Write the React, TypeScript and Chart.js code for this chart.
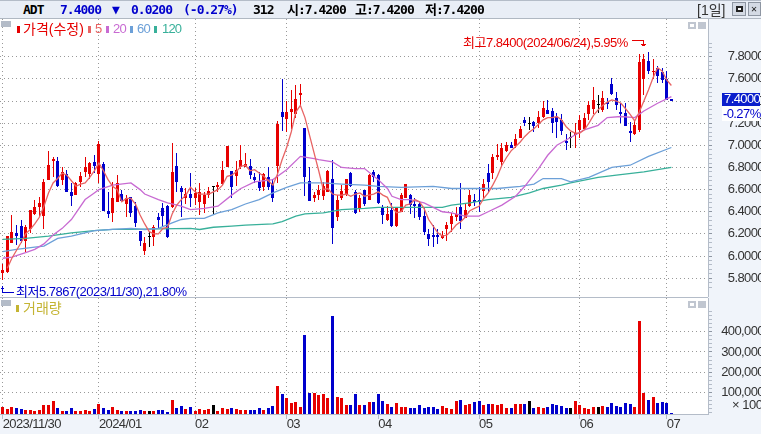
import { useEffect, useRef } from "react"
import { Chart, registerables } from "chart.js"

Chart.register(...registerables)

// daily candles, index 0 = 2023/11/30
const opens = [
  5.85, 5.86, 6.12, 6.21, 6.27, 6.14, 6.24, 6.38, 6.44, 6.36,
  6.69, 6.86, 6.86, 6.69, 6.74, 6.58, 6.55, 6.67, 6.76, 6.74,
  6.85, 6.74, 6.83, 6.41, 6.39, 6.49, 6.56, 6.47, 6.53, 6.45,
  6.23, 6.05, 6.17, 6.17, 6.35, 6.43, 6.45, 6.44, 6.81, 6.61,
  6.52, 6.56, 6.52, 6.49, 6.47, 6.55, 6.62, 6.62, 6.65, 6.80,
  6.77, 6.72, 6.80, 6.80, 6.81, 6.71, 6.67, 6.62, 6.71, 6.66,
  6.81, 7.30, 7.24, 7.30, 7.28, 7.45, 7.16, 6.68, 6.52, 6.55,
  6.54, 6.58, 6.70, 6.35, 6.52, 6.56, 6.75, 6.58, 6.43, 6.60,
  6.51, 6.76, 6.73, 6.43, 6.33, 6.42, 6.27, 6.40, 6.52, 6.55,
  6.47, 6.47, 6.36, 6.20, 6.19, 6.19, 6.16, 6.24, 6.29, 6.35,
  6.44, 6.34, 6.45, 6.51, 6.51, 6.59, 6.75, 6.75, 6.89, 6.85,
  6.95, 7.00, 6.99, 7.07, 7.23, 7.19, 7.21, 7.20, 7.26, 7.32,
  7.31, 7.26, 7.23, 7.04, 7.07, 7.09, 7.14, 7.15, 7.28, 7.33,
  7.36, 7.32, 7.39, 7.55, 7.43, 7.30, 7.29, 7.13, 7.10, 7.14,
  7.60, 7.76, 7.66, 7.70, 7.66, 7.60, 7.42,
]
const highs = [
  5.93, 6.18, 6.37, 6.28, 6.33, 6.28, 6.42, 6.51, 6.53, 6.70,
  6.95, 6.89, 6.89, 6.80, 6.78, 6.66, 6.67, 6.76, 6.89, 6.85,
  6.91, 7.04, 6.85, 6.58, 6.67, 6.73, 6.60, 6.55, 6.53, 6.49,
  6.23, 6.17, 6.22, 6.28, 6.39, 6.48, 6.46, 7.02, 6.93, 6.63,
  6.61, 6.75, 6.61, 6.66, 6.58, 6.62, 6.62, 6.67, 6.86, 6.99,
  6.77, 6.86, 7.00, 6.93, 6.88, 6.75, 6.76, 6.75, 6.80, 6.70,
  7.22, 7.60, 7.40, 7.50, 7.54, 7.55, 7.16, 6.80, 6.58, 6.64,
  6.67, 6.78, 6.87, 6.55, 6.64, 6.70, 6.76, 6.60, 6.55, 6.60,
  6.74, 6.78, 6.74, 6.46, 6.45, 6.48, 6.43, 6.57, 6.65, 6.56,
  6.52, 6.50, 6.44, 6.24, 6.28, 6.24, 6.23, 6.31, 6.39, 6.44,
  6.66, 6.48, 6.60, 6.56, 6.62, 6.70, 6.83, 6.92, 7.01, 7.02,
  7.03, 7.03, 7.10, 7.17, 7.26, 7.26, 7.22, 7.31, 7.40, 7.41,
  7.34, 7.29, 7.28, 7.10, 7.12, 7.20, 7.27, 7.29, 7.40, 7.53,
  7.45, 7.49, 7.43, 7.61, 7.48, 7.38, 7.38, 7.21, 7.23, 7.82,
  7.82, 7.84, 7.78, 7.72, 7.70, 7.67, 7.42,
]
const lows = [
  5.78, 5.85, 6.12, 6.10, 6.12, 6.04, 6.21, 6.37, 6.35, 6.24,
  6.69, 6.71, 6.62, 6.64, 6.58, 6.45, 6.55, 6.62, 6.71, 6.70,
  6.75, 6.66, 6.41, 6.34, 6.31, 6.49, 6.50, 6.35, 6.35, 6.26,
  6.09, 6.01, 6.08, 6.09, 6.25, 6.26, 6.16, 6.43, 6.58, 6.35,
  6.47, 6.44, 6.46, 6.37, 6.39, 6.52, 6.38, 6.58, 6.64, 6.80,
  6.52, 6.63, 6.79, 6.80, 6.70, 6.66, 6.59, 6.59, 6.60, 6.49,
  6.66, 7.13, 7.12, 7.15, 7.25, 7.36, 6.54, 6.50, 6.49, 6.51,
  6.51, 6.58, 6.11, 6.32, 6.51, 6.54, 6.62, 6.38, 6.40, 6.45,
  6.51, 6.67, 6.47, 6.29, 6.32, 6.26, 6.26, 6.40, 6.52, 6.38,
  6.34, 6.33, 6.19, 6.09, 6.08, 6.11, 6.15, 6.14, 6.22, 6.32,
  6.24, 6.34, 6.44, 6.45, 6.40, 6.52, 6.57, 6.70, 6.87, 6.80,
  6.94, 6.98, 6.98, 7.07, 7.17, 7.14, 7.12, 7.16, 7.25, 7.28,
  7.11, 7.07, 7.09, 6.96, 6.98, 6.98, 7.07, 7.15, 7.23, 7.28,
  7.29, 7.30, 7.33, 7.45, 7.32, 7.20, 7.17, 7.03, 7.09, 7.12,
  7.45, 7.64, 7.60, 7.56, 7.56, 7.41, 7.40,
]
const closes = [
  5.87, 6.18, 6.22, 6.18, 6.14, 6.26, 6.42, 6.44, 6.48, 6.67,
  6.82, 6.88, 6.63, 6.76, 6.58, 6.54, 6.66, 6.72, 6.80, 6.84,
  6.81, 7.01, 6.41, 6.38, 6.52, 6.66, 6.50, 6.52, 6.39, 6.30,
  6.14, 6.12, 6.17, 6.26, 6.33, 6.36, 6.17, 6.76, 6.67, 6.58,
  6.56, 6.52, 6.57, 6.58, 6.55, 6.59, 6.62, 6.64, 6.78, 6.99,
  6.62, 6.78, 6.87, 6.83, 6.73, 6.69, 6.61, 6.74, 6.62, 6.52,
  7.19, 7.26, 7.30, 7.33, 7.42, 7.47, 6.71, 6.50, 6.55, 6.60,
  6.63, 6.77, 6.25, 6.51, 6.59, 6.70, 6.63, 6.39, 6.52, 6.47,
  6.73, 6.71, 6.48, 6.37, 6.38, 6.27, 6.43, 6.55, 6.65, 6.46,
  6.45, 6.35, 6.22, 6.15, 6.17, 6.17, 6.19, 6.28, 6.36, 6.38,
  6.32, 6.42, 6.55, 6.49, 6.49, 6.65, 6.67, 6.89, 6.91, 6.98,
  7.00, 6.98, 7.06, 7.15, 7.20, 7.19, 7.17, 7.26, 7.34, 7.28,
  7.20, 7.21, 7.13, 7.02, 7.07, 7.11, 7.23, 7.25, 7.36, 7.41,
  7.36, 7.43, 7.37, 7.46, 7.36, 7.28, 7.17, 7.11, 7.18, 7.75,
  7.78, 7.67, 7.67, 7.63, 7.59, 7.41, 7.40,
]
const volumes = [
  27500, 17600, 27500, 22600, 17600, 12700, 12700, 7700, 12700, 37400,
  37400, 57100, 22600, 7700, 7700, 22600, 7700, 7700, 12700, 7700,
  17600, 42300, 22600, 12700, 27500, 12700, 7700, 7700, 7700, 7700,
  12700, 7700, 7700, 7700, 12700, 12700, 2800, 62100, 22600, 32400,
  17600, 27500, 7700, 17600, 12700, 17600, 37400, 7700, 22600, 17600,
  22600, 17600, 12700, 12700, 12700, 12700, 22600, 12700, 22600, 32400,
  131300, 91700, 72000, 47300, 52200, 27500, 383300, 96700, 96700, 86800,
  91700, 72000, 477100, 76900, 72000, 37400, 37400, 91700, 37400, 37400,
  52200, 52200, 91700, 57100, 42300, 27500, 47300, 27500, 27500, 22600,
  22600, 37400, 22600, 27500, 27500, 17600, 32400, 22600, 17600, 57100,
  62100, 37400, 42300, 52200, 57100, 37400, 42300, 42300, 37400, 42300,
  22600, 22600, 42300, 42300, 42300, 57100, 22600, 27500, 22600, 27500,
  42300, 37400, 32400, 22600, 22600, 57100, 37400, 22600, 17600, 27500,
  27500, 32400, 27500, 47300, 32400, 27500, 47300, 42300, 27500, 452400,
  96700, 62100, 76900, 47300, 52200, 47300, 312,
]

// moving averages
const ma5 = [
  null, 5.89, 5.98, 6.05, 6.12, 6.20, 6.24, 6.29, 6.35, 6.45,
  6.57, 6.66, 6.70, 6.75, 6.73, 6.68, 6.63, 6.65, 6.66, 6.71,
  6.77, 6.84, 6.77, 6.69, 6.63, 6.60, 6.49, 6.52, 6.52, 6.47,
  6.37, 6.29, 6.22, 6.20, 6.20, 6.25, 6.26, 6.38, 6.46, 6.51,
  6.55, 6.62, 6.58, 6.56, 6.56, 6.56, 6.58, 6.60, 6.64, 6.72,
  6.73, 6.76, 6.81, 6.82, 6.77, 6.78, 6.75, 6.72, 6.68, 6.64,
  6.74, 6.87, 6.98, 7.12, 7.30, 7.36, 7.25, 7.09, 6.93, 6.77,
  6.60, 6.61, 6.56, 6.55, 6.55, 6.56, 6.54, 6.56, 6.57, 6.54,
  6.55, 6.56, 6.58, 6.55, 6.53, 6.44, 6.39, 6.40, 6.46, 6.47,
  6.51, 6.49, 6.43, 6.33, 6.27, 6.21, 6.18, 6.19, 6.23, 6.28,
  6.31, 6.35, 6.41, 6.43, 6.45, 6.52, 6.57, 6.64, 6.72, 6.82,
  6.89, 6.95, 6.99, 7.03, 7.08, 7.12, 7.15, 7.19, 7.23, 7.25,
  7.25, 7.26, 7.23, 7.17, 7.13, 7.11, 7.11, 7.14, 7.20, 7.27,
  7.32, 7.36, 7.39, 7.41, 7.40, 7.38, 7.33, 7.28, 7.22, 7.30,
  7.40, 7.50, 7.61, 7.70, 7.67, 7.59, 7.54,
]
const ma20Days = [
  0, 2, 5, 7, 9, 11, 13, 15, 18, 20, 21, 24, 28, 30, 31, 34, 36, 39, 41, 44,
  47, 50, 52, 55, 59, 62, 65, 68, 69, 72, 74, 77, 79, 82, 84, 85, 87, 89, 92, 94,
  96, 98, 101, 104, 106, 109, 112, 114, 117, 119, 121, 124, 127, 130, 132, 135, 138, 140, 143, 146,
]
const ma20 = [
  5.98, 5.99, 6.03, 6.06, 6.11, 6.19, 6.25, 6.33, 6.51, 6.57, 6.60, 6.64, 6.66, 6.60, 6.56, 6.51, 6.48, 6.45, 6.42, 6.43,
  6.45, 6.55, 6.61, 6.67, 6.69, 6.78, 6.90, 6.88, 6.87, 6.85, 6.80, 6.79, 6.79, 6.69, 6.61, 6.54, 6.51, 6.51, 6.48, 6.44,
  6.40, 6.39, 6.36, 6.36, 6.40, 6.46, 6.54, 6.63, 6.79, 6.91, 7.00, 7.07, 7.14, 7.18, 7.25, 7.26, 7.25, 7.31, 7.38, 7.44,
]
const ma60Days = [
  0, 3, 7, 9, 12, 15, 20, 24, 28, 31, 34, 37, 39, 41, 44, 47, 50, 53, 56, 59,
  62, 65, 70, 74, 79, 82, 87, 94, 98, 104, 108, 113, 116, 118, 122, 124, 128, 133, 137, 141, 146,
]
const ma60 = [
  6.04, 6.06, 6.08, 6.09, 6.16, 6.18, 6.23, 6.24, 6.25, 6.24, 6.25, 6.30, 6.33, 6.34, 6.34, 6.39, 6.42, 6.47, 6.51, 6.57,
  6.62, 6.66, 6.66, 6.65, 6.64, 6.63, 6.62, 6.63, 6.61, 6.61, 6.61, 6.63, 6.65, 6.70, 6.70, 6.67, 6.71, 6.80, 6.82, 6.90, 6.98,
]
const ma120Days = [
  0, 5, 10, 15, 20, 24, 28, 41, 43, 46, 50, 53, 59, 61, 64, 66, 70, 74, 79, 82,
  87, 96, 98, 102, 106, 111, 115, 118, 122, 124, 130, 134, 140, 146,
]
const ma120 = [
  6.15, 6.16, 6.18, 6.21, 6.23, 6.24, 6.24, 6.25, 6.24, 6.26, 6.27, 6.28, 6.29, 6.31, 6.36, 6.38, 6.39, 6.42, 6.43, 6.44,
  6.44, 6.44, 6.46, 6.48, 6.51, 6.53, 6.57, 6.61, 6.64, 6.66, 6.71, 6.73, 6.76, 6.80,
]

const monthDays = [0, 21, 42, 62, 82, 104, 126, 145]
const monthLabels = ["2023/11/30", "2024/01", "02", "03", "04", "05", "06", "07"]
const priceLabels = [5.8, 6.0, 6.2, 6.4, 6.6, 6.8, 7.0, 7.2, 7.4, 7.6, 7.8]
const volumeLabels = [100000, 200000, 300000, 400000]

const RED = "#e60000"
const BLUE = "#0000cc"
const FONT = '"Liberation Sans", "Noto Sans CJK KR", sans-serif'
const MONO = '"DejaVu Sans Mono", "Noto Sans CJK KR", monospace'
const DOT = "#999999"
const AXIS = "#b4bcc8"

// x range so that one trading day is 4.58px
const xMin = -0.59
const xMax = 154.0

const candleColor = (i: number) =>
  closes[i] > opens[i] ? RED : closes[i] < opens[i] ? BLUE : "#000000"

const maPoints = (days: number[], values: number[]) =>
  days.map((x, i) => ({ x, y: values[i] }))

// the source chart has no anti-aliasing, snap the bars to whole pixels
const snapBars = {
  id: "snapBars",
  afterDatasetsUpdate(chart: any) {
    chart.getSortedVisibleDatasetMetas().forEach((meta: any) => {
      if (meta.type !== "bar") return
      meta.data.forEach((el: any) => {
        el.x = Math.round(el.x - 0.5) + 0.5
        el.y = Math.round(el.y)
        el.base = Math.round(el.base)
      })
    })
  },
  beforeDraw(chart: any) {
    // bitmap font of the source is narrow
    chart.ctx.letterSpacing = "-0.6px"
  },
}

const noMargins = (axis: any) => {
  axis.paddingTop = 0
  axis.paddingBottom = 0
  axis.paddingLeft = 0
  axis.paddingRight = 0
}

const xScale = (bottom: boolean) => ({
  type: "linear" as const,
  position: "bottom" as const,
  min: xMin,
  max: xMax,
  offset: false,
  afterBuildTicks: (axis: any) => {
    axis.ticks = monthDays.map((value) => ({ value }))
  },
  afterFit: (axis: any) => {
    axis.height = bottom ? 20 : 0
    noMargins(axis)
  },
  border: { display: false, dash: [1, 3] },
  grid: {
    offset: false,
    // April has no grid line in the source
    color: (c: any) => (c.tick && c.tick.value === 82 ? "rgba(0,0,0,0)" : DOT),
    tickColor: AXIS,
    tickLength: bottom ? 5 : 0,
    drawTicks: bottom,
  },
  ticks: {
    display: bottom,
    autoSkip: false,
    maxRotation: 0,
    align: "start" as const,
    padding: -2,
    color: "#333333",
    font: { family: FONT, size: 13 },
    callback: (value: any) => monthLabels[monthDays.indexOf(Number(value))] ?? "",
  },
})

const yScale = (min: number, max: number, ticks: number[], labels: number[], format: (v: number) => string) => ({
  position: "right" as const,
  min,
  max,
  afterBuildTicks: (axis: any) => {
    axis.ticks = ticks.map((value) => ({ value }))
  },
  afterFit: (axis: any) => {
    axis.width = 56
    noMargins(axis)
  },
  border: { display: true, color: AXIS, width: 1, dash: [1, 3] },
  grid: {
    color: (c: any) => (c.tick && labels.includes(c.tick.value) ? DOT : "rgba(0,0,0,0)"),
    tickColor: (c: any) => (c.tick && labels.includes(c.tick.value) ? "#8e96a2" : AXIS),
    tickLength: 4,
  },
  ticks: {
    autoSkip: false,
    crossAlign: "far" as const,
    padding: 0,
    color: "#333333",
    font: { family: FONT, size: 13 },
    callback: (value: any) => (labels.includes(Number(value)) ? format(Number(value)) : ""),
  },
})

const priceTicks: number[] = []
for (let n = 143; n <= 198; n++) {
  const v = n / 25
  priceTicks.push(priceLabels.find((p) => Math.abs(p - v) < 1e-6) ?? v)
}
const volumeTicks: number[] = []
for (let v = 0; v <= 500000; v += 20000) volumeTicks.push(v)

function Label(props: {
  x: number
  y: number
  color: string
  text: string
  size?: number
  font?: string
  bold?: boolean
  spacing?: number
}) {
  return (
    <span
      style={{
        position: "absolute",
        left: props.x,
        top: props.y,
        color: props.color,
        fontFamily: props.font ?? FONT,
        fontSize: props.size ?? 13,
        fontWeight: props.bold ? 700 : 400,
        letterSpacing: props.spacing ?? 0,
        lineHeight: "14px",
        whiteSpace: "nowrap",
      }}
    >
      {props.text}
    </span>
  )
}

function Box(props: { x: number; y: number; w: number; h: number; color: string; border?: string }) {
  return (
    <div
      style={{
        position: "absolute",
        left: props.x,
        top: props.y,
        width: props.w,
        height: props.h,
        background: props.color,
        border: props.border,
        boxSizing: "border-box",
      }}
    />
  )
}

export default function App() {
  const priceRef = useRef<HTMLCanvasElement>(null)
  const volumeRef = useRef<HTMLCanvasElement>(null)

  useEffect(() => {
    if (!priceRef.current || !volumeRef.current) return

    const days = closes.map((_, i) => i)
    const line = (data: any[], color: string) => ({
      type: "line" as const,
      data,
      borderColor: color,
      borderWidth: 1.3,
      pointRadius: 0,
      tension: 0,
      spanGaps: true,
      order: 0,
    })

    const price = new Chart(priceRef.current, {
      type: "bar",
      data: {
        datasets: [
          line(days.map((x) => ({ x, y: ma5[x] })), "#e86464"),
          line(maPoints(ma20Days, ma20), "#c86ad2"),
          line(maPoints(ma60Days, ma60), "#6ca0d8"),
          line(maPoints(ma120Days, ma120), "#38b09a"),
          {
            data: days.map((x) => ({ x, y: [lows[x], highs[x]] })),
            backgroundColor: days.map(candleColor),
            barThickness: 1,
            grouped: false,
            inflateAmount: 0,
            order: 2,
          },
          {
            data: days.map((x) => ({ x, y: [opens[x], closes[x]] })),
            backgroundColor: days.map(candleColor),
            barThickness: 3,
            grouped: false,
            inflateAmount: 0,
            minBarLength: 1,
            order: 1,
          },
        ] as any,
      },
      options: {
        responsive: false,
        animation: false,
        devicePixelRatio: 1,
        layout: { padding: 0 },
        plugins: { legend: { display: false }, tooltip: { enabled: false } },
        scales: {
          x: xScale(false) as any,
          y: yScale(5.6303, 8.1404, priceTicks, priceLabels, (v) => v.toFixed(4)) as any,
        },
      },
      plugins: [snapBars],
    })

    const volume = new Chart(volumeRef.current, {
      type: "bar",
      data: {
        datasets: [
          {
            data: days.map((x) => ({ x, y: volumes[x] })),
            backgroundColor: days.map(candleColor),
            barThickness: 3,
            grouped: false,
            inflateAmount: 0,
            base: -6930,
          },
        ] as any,
      },
      options: {
        responsive: false,
        animation: false,
        devicePixelRatio: 1,
        layout: { padding: 0 },
        plugins: { legend: { display: false }, tooltip: { enabled: false } },
        scales: {
          x: xScale(true) as any,
          y: yScale(-6930, 567300, volumeTicks, volumeLabels, (v) => v.toLocaleString("en-US")) as any,
        },
      },
      plugins: [snapBars],
    })

    return () => {
      price.destroy()
      volume.destroy()
    }
  }, [])

  return (
    <div
      style={{
        position: "absolute",
        left: 0,
        top: 0,
        width: 761,
        height: 434,
        overflow: "hidden",
        background: "#f0f4fa",
      }}
    >
      {/* header strip */}
      <Box x={0} y={0} w={761} h={19} color="#e9eef6" />
      <Box x={0} y={0} w={761} h={1} color="#b4bcc8" />
      <Box x={0} y={18} w={761} h={1} color="#b0b8c2" />

      {/* plot backgrounds */}
      <Box x={0} y={19} w={708} h={278} color="#ffffff" />
      <Box x={0} y={298} w={708} h={116} color="#ffffff" />
      <Box x={0} y={297} w={708} h={1} color="#b4bcc8" />
      <Box x={0} y={414} w={708} h={1} color="#b4bcc8" />

      <canvas ref={priceRef} width={764} height={278} style={{ position: "absolute", left: 0, top: 19 }} />
      <canvas ref={volumeRef} width={764} height={136} style={{ position: "absolute", left: 0, top: 298 }} />

      <Label x={23} y={3} color="#000000" text="ADT" font={MONO} size={13} bold spacing={-1} />
      <Label x={60} y={3} color={BLUE} text="7.4000" font={MONO} size={13} bold spacing={-1} />
      <Label x={112} y={3} color={BLUE} text="▼" font={MONO} size={13} bold />
      <Label x={131} y={3} color={BLUE} text="0.0200" font={MONO} size={13} bold spacing={-1} />
      <Label x={183} y={3} color={BLUE} text="(-0.27%)" font={MONO} size={13} bold spacing={-1} />
      <Label x={253} y={3} color="#000000" text="312" font={MONO} size={13} bold spacing={-1} />
      <Label x={287} y={3} color="#000000" text="시:7.4200" font={MONO} size={13} bold spacing={-1} />
      <Label x={355} y={3} color="#000000" text="고:7.4200" font={MONO} size={13} bold spacing={-1} />
      <Label x={425} y={3} color="#000000" text="저:7.4200" font={MONO} size={13} bold spacing={-1} />
      <Label x={697} y={3} color="#333333" text="[1일]" size={14} />
      <Box x={732} y={2} w={14} h={14} color="#d4dae4" border="1px solid #8e96a2" />
      <Box x={736} y={6} w={7} h={6} color="#ffffff" border="2px solid #222222" />
      <Box x={748} y={2} w={13} h={14} color="#d4dae4" border="1px solid #8e96a2" />
      <Label x={751} y={2} color="#222222" text="✕" font={MONO} size={10} bold />

      {/* price legend */}
      <Box x={1} y={21} w={10} h={6} color="#b4bcc8" />
      <Box x={17} y={26} w={3} h={7} color={RED} />
      <Label x={23} y={22} color={RED} text="가격(수정)" size={14} />
      <Box x={88} y={26} w={3} h={7} color="#e86464" />
      <Label x={95} y={22} color="#e86464" text="5" size={13} spacing={-0.8} />
      <Box x={106} y={26} w={3} h={7} color="#c86ad2" />
      <Label x={113} y={22} color="#c86ad2" text="20" size={13} spacing={-0.8} />
      <Box x={130} y={26} w={3} h={7} color="#6ca0d8" />
      <Label x={137} y={22} color="#6ca0d8" text="60" size={13} spacing={-0.8} />
      <Box x={154} y={26} w={3} h={7} color="#38b09a" />
      <Label x={162} y={22} color="#38b09a" text="120" size={13} spacing={-0.8} />

      {/* panel icons */}
      <Box x={688} y={22} w={8} h={7} color="#ffffff" border="2px solid #c0c6d0" />
      <Box x={698} y={22} w={8} h={7} color="#c0c6d0" />
      <Box x={688} y={301} w={8} h={7} color="#ffffff" border="2px solid #c0c6d0" />
      <Box x={698} y={301} w={8} h={7} color="#c0c6d0" />

      {/* high and low notes */}
      <Label x={463} y={36} color={RED} text="최고7.8400(2024/06/24),5.95%" spacing={-0.5} />
      <Box x={632} y={40} w={12} h={1} color={RED} />
      <Box x={643} y={40} w={1} h={5} color={RED} />
      <Box x={641} y={44} w={5} h={1} color={RED} />
      <Box x={642} y={45} w={3} h={1} color={RED} />
      <Label x={16} y={285} color={BLUE} text="최저5.7867(2023/11/30),21.80%" spacing={-0.5} />
      <Box x={2} y={286} w={1} h={7} color={BLUE} />
      <Box x={2} y={292} w={12} h={1} color={BLUE} />
      <Box x={1} y={288} w={3} h={1} color={BLUE} />

      {/* last price badge */}
      <Box x={722} y={93} w={38} h={13} color="#0a1ecc" />
      <Label x={724} y={92} color="#ffffff" text="7.4000" size={13} spacing={-0.6} />
      <Box x={722} y={106} w={38} h={15} color="#ffffff" />
      <Label x={723} y={107} color={BLUE} text="-0.27%" size={13} spacing={-0.6} />

      {/* volume legend */}
      <Box x={1} y={300} w={10} h={6} color="#b4bcc8" />
      <Box x={16} y={305} w={3} h={7} color="#c4b432" />
      <Label x={23} y={301} color="#c4b432" text="거래량" size={14} />
      <Label x={732} y={398} color="#333333" text="× 100" size={13} spacing={-0.5} />
    </div>
  )
}
